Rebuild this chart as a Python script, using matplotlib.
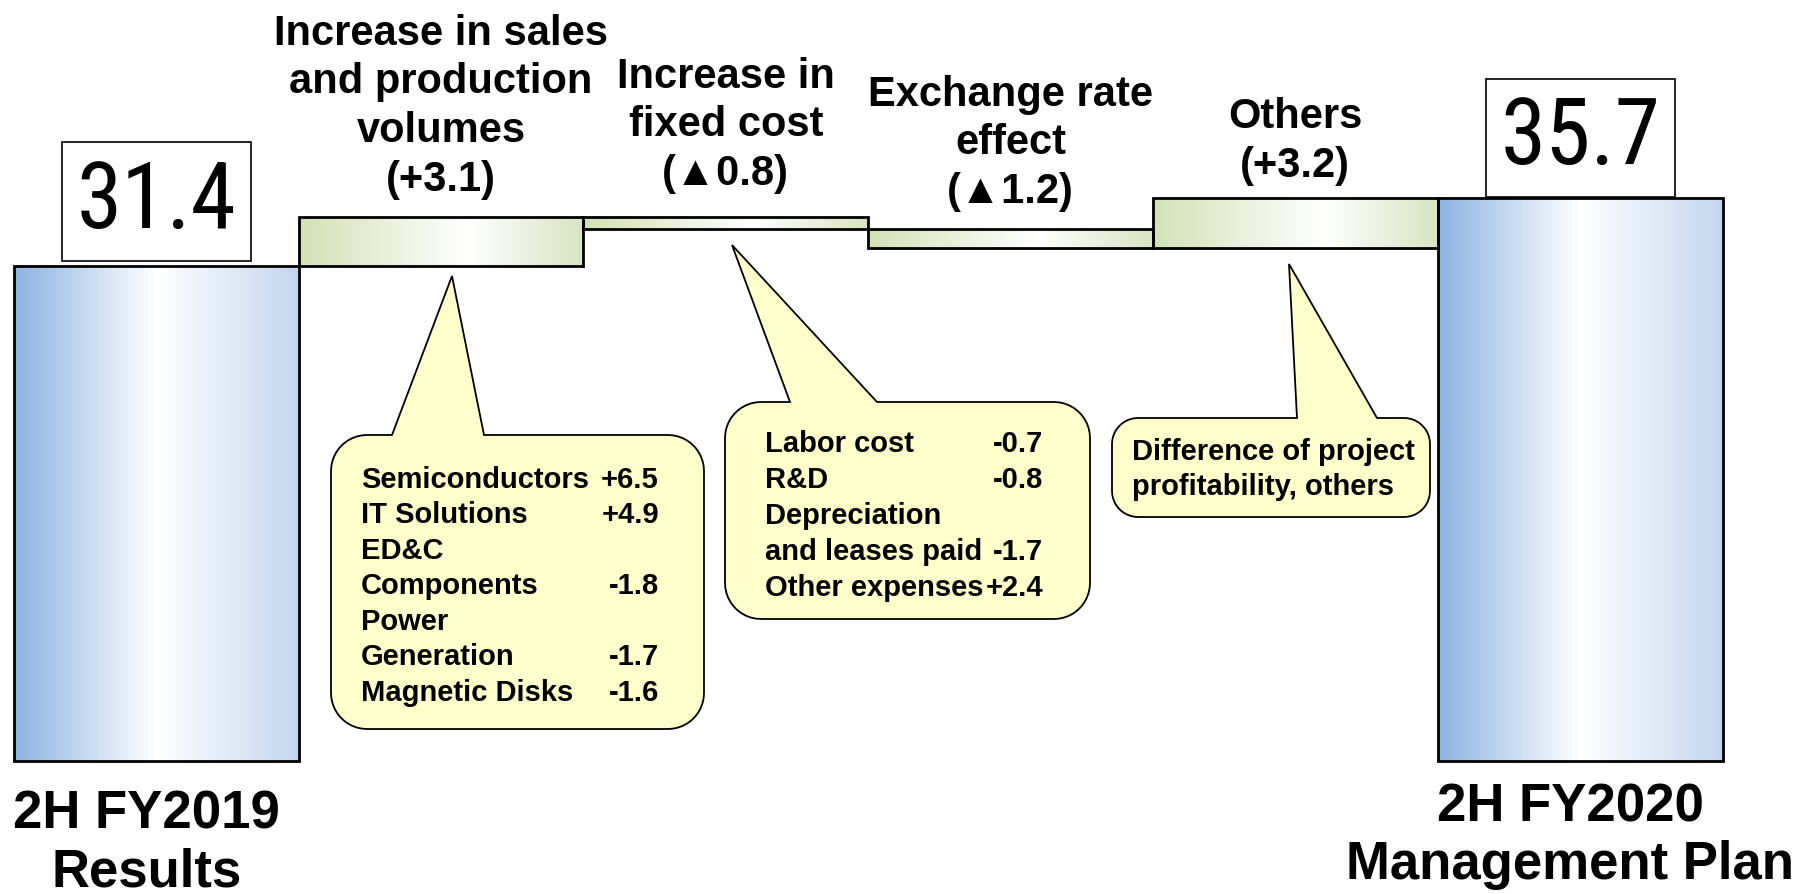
import numpy as np
import matplotlib
matplotlib.use("Agg")
import matplotlib.pyplot as plt
from matplotlib.patches import Rectangle, Polygon
from matplotlib.colors import LinearSegmentedColormap
from matplotlib.transforms import Affine2D
from matplotlib import font_manager

# ---------------- data ----------------
start_label = "2H FY2019\nResults"
end_label = "2H FY2020\nManagement Plan"
start_value = 31.4
end_value = 35.7

step_labels = ["Increase in sales\nand production\nvolumes",
               "Increase in\nfixed cost",
               "Exchange rate\neffect",
               "Others"]
step_values = [3.1, -0.8, -1.2, 3.2]

segment_names = ["Semiconductors", "IT Solutions", "ED&C\nComponents",
                 "Power\nGeneration", "Magnetic Disks"]
segment_values = [6.5, 4.9, -1.8, -1.7, -1.6]

fixed_names = ["Labor cost", "R&D", "Depreciation\nand leases paid", "Other expenses"]
fixed_values = [-0.7, -0.8, -1.7, 2.4]

others_note = ["Difference of project", "profitability, others"]

# ---------------- setup ----------------
W, H = 1808, 895
fig = plt.figure(figsize=(W / 100, H / 100), dpi=100)
ax = fig.add_axes([0, 0, 1, 1])
ax.axis("off")

names = {f.name for f in font_manager.fontManager.ttflist}
if "Roboto Condensed" in names:
    num_family, num_size = "Roboto Condensed", 66
elif "PT Sans Narrow" in names:
    num_family, num_size = "PT Sans Narrow", 68
else:
    num_family, num_size = "Liberation Sans", 58
FAM = ["Liberation Sans", "DejaVu Sans"]

blue = LinearSegmentedColormap.from_list("b", [(0, "#8DB3E2"), (0.5, "#FFFFFF"), (1, "#C3D6EF")])
green = LinearSegmentedColormap.from_list("g", [(0, "#D3E1B6"), (0.6, "#FFFFFF"), (1, "#D8E4C2")])
grad = np.linspace(0, 1, 256).reshape(1, -1)


def bar(x, bottom, top, cmap):
    ax.imshow(grad, cmap=cmap, extent=(x - 0.5, x + 0.5, bottom, top),
              aspect="auto", interpolation="bilinear", zorder=1)
    ax.add_patch(Rectangle((x - 0.5, bottom), 1, top - bottom, fill=False,
                           ec="black", lw=2, zorder=2))


# waterfall
bar(0, 0, start_value, blue)
cum = start_value
tops = []
for i, d in enumerate(step_values, start=1):
    lo, hi = min(cum, cum + d), max(cum, cum + d)
    bar(i, lo, hi, green)
    tops.append(hi)
    cum += d
n_end = len(step_values) + 1
bar(n_end, 0, end_value, blue)

ax.set_xlim(-0.5485, 5.80)
ax.set_ylim(-8.43, 48.29)

# value boxes
for x, v, off in [(0, start_value, 14), (n_end, end_value, 11)]:
    ax.annotate(f"{v:.1f}", (x, v), xytext=(0, off), textcoords="offset points",
                ha="center", va="bottom", family=num_family, fontsize=num_size,
                bbox=dict(boxstyle="square,pad=0.16", fc="white", ec="black", lw=1.2),
                zorder=5)

# step labels
label_offsets = [13, 17, 13, 9]
for i, (lab, d, top, off) in enumerate(zip(step_labels, step_values, tops, label_offsets), start=1):
    val = f"(+{d:.1f})" if d >= 0 else f"(\u25B2{abs(d):.1f})"
    ax.annotate(f"{lab}\n{val}", (i, top), xytext=(0, off), textcoords="offset points",
                ha="center", va="bottom", multialignment="center",
                fontsize=30, fontweight="bold", family=FAM, linespacing=1.28)

# bottom labels
for x, lab, off in [(0, start_label, -20), (n_end, end_label, -15)]:
    ax.annotate(lab, (x, 0), xytext=(-7, off), textcoords="offset points",
                ha="center", va="top", multialignment="center",
                fontsize=38, fontweight="bold", family=FAM, linespacing=1.19)

# ---------------- callouts (pixel layout) ----------------
tr = Affine2D().scale(1 / W, -1 / H).translate(0, 1) + fig.transFigure


def callout(x0, y0, x1, y1, r, b0, b1, tip):
    v = [(b0, y0), tip, (b1, y0), (x1 - r, y0)]
    def arc(cx, cy, a0, a1):
        for t in np.linspace(np.radians(a0), np.radians(a1), 12):
            v.append((cx + r * np.cos(t), cy + r * np.sin(t)))
    arc(x1 - r, y0 + r, -90, 0)
    v.append((x1, y1 - r))
    arc(x1 - r, y1 - r, 0, 90)
    v.append((x0 + r, y1))
    arc(x0 + r, y1 - r, 90, 180)
    v.append((x0, y0 + r))
    arc(x0 + r, y0 + r, 180, 270)
    fig.add_artist(Polygon(v, closed=True, transform=tr, fc="#FFFFCC",
                           ec="black", lw=1.3, zorder=3))


def rows(names_, values_, xl, xr, y_first, dy):
    row = 0
    for nm, val in zip(names_, values_):
        parts = nm.split("\n")
        for p in parts:
            fig.text(xl, y_first + row * dy, p, transform=tr, ha="left", va="center",
                     fontsize=21, fontweight="bold", family=FAM, zorder=4)
            row += 1
        fig.text(xr, y_first + (row - 1) * dy, f"{val:+.1f}", transform=tr,
                 ha="right", va="center", fontsize=21, fontweight="bold",
                 family=FAM, zorder=4)


callout(331, 436, 704, 730, 36, 392, 484, (452, 277))
rows(segment_names, segment_values, 361, 659, 480, 35.5)

callout(725, 403, 1090, 620, 36, 790, 877, (732, 246))
rows(fixed_names, fixed_values, 765, 1043, 444, 36)

callout(1112, 419, 1430, 518, 26, 1297, 1377, (1289, 265))
for k, line in enumerate(others_note):
    fig.text(1132, 452 + k * 35, line, transform=tr, ha="left", va="center",
             fontsize=21, fontweight="bold", family=FAM, zorder=4)

fig.savefig("out.png", dpi=100)
